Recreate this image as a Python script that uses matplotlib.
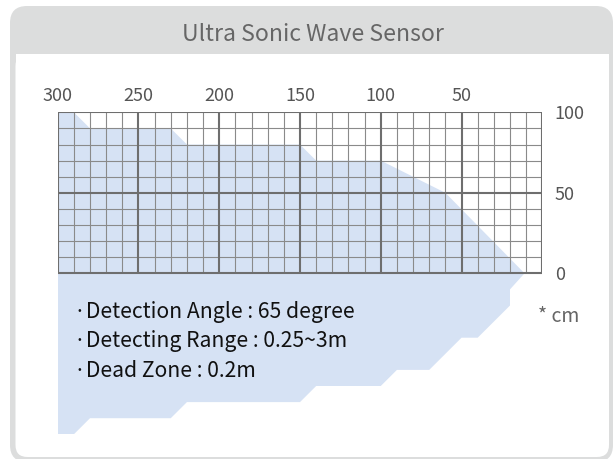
import matplotlib
matplotlib.use("Agg")
import matplotlib.pyplot as plt
from matplotlib.patches import FancyBboxPatch, Rectangle
import numpy as np

plt.rcParams['font.family'] = ['Noto Sans CJK KR', 'DejaVu Sans']

# ---- data ----
title = "Ultra Sonic Wave Sensor"
x_ticks = [300, 250, 200, 150, 100, 50]
y_ticks = [0, 50, 100]
unit_label = "* cm"
notes = ["·Detection Angle : 65 degree",
         "·Detecting Range : 0.25~3m",
         "·Dead Zone : 0.2m"]
# beam boundary (distance cm, lateral value), upper edge then lower edge
upper_cm = [300, 290, 280, 230, 220, 150, 140, 100, 60, 11]
upper_v = [100, 100, 90, 90, 80, 80, 70, 70, 50, 0]
lower_cm = [11, 20, 20, 40, 50, 70, 90, 100, 140, 150, 220, 230, 280, 290, 300]
lower_v = [0, -10, -20, -40, -40, -60, -60, -70, -70, -80, -80, -90, -90, -100, -100]
minor_step = 10
major_step = 50

W, H = 614, 459
fig = plt.figure(figsize=(W / 100, H / 100), dpi=100)

# background axes in pixel coords
bg = fig.add_axes([0, 0, 1, 1])
bg.set_xlim(0, W)
bg.set_ylim(H, 0)
bg.axis('off')
bg.add_patch(FancyBboxPatch((10, 6), 603, 456, boxstyle="round,pad=0,rounding_size=17",
                            fc='#dcdddd', ec='none'))
bg.add_patch(FancyBboxPatch((15.5, 54), 593.5, 403, boxstyle="round,pad=0,rounding_size=12",
                            fc='white', ec='none'))
bg.add_patch(Rectangle((15.5, 54), 593.5, 30, fc='white', ec='none'))
bg.text(312.5, 40.7, title, ha='center', va='baseline', fontsize=16.6, color='#666666')
bg.text(538, 321.7, unit_label, ha='left', va='baseline', fontsize=14, color='#666666')

# main axes: x 300..0, y -100..100
left, right = 57.7, 542.3
top, bottom = 112.3, 434.3
ax = fig.add_axes([left / W, (H - bottom) / H, (right - left) / W, (bottom - top) / H])
ax.patch.set_alpha(0)
ax.set_xlim(300, 0)
ax.set_ylim(-100, 100)
for s in ax.spines.values():
    s.set_visible(False)

xs = list(upper_cm) + list(lower_cm)
ys = list(upper_v) + list(lower_v)
ax.fill(xs, ys, color='#d6e2f4', lw=0, zorder=1)

xmin, xmax = 0, 300
ymin, ymax = 0, 100
for x in np.arange(xmin, xmax + 1, minor_step):
    major = (x % major_step == 0)
    ax.vlines(x, ymin, ymax, colors='#6e6e6e' if major else '#8a8a8a',
              lw=1.5 if major else 0.8, zorder=2 + major)
for y in np.arange(ymin, ymax + 1, minor_step):
    major = (y % major_step == 0)
    ax.hlines(y, xmin, xmax, colors='#6e6e6e' if major else '#8a8a8a',
              lw=1.5 if major else 0.8, zorder=2 + major)

ax.xaxis.tick_top()
ax.set_xticks(x_ticks)
ax.set_xticklabels([str(v) for v in x_ticks])
ax.yaxis.tick_right()
ax.set_yticks(y_ticks)
ax.set_yticklabels([str(v) for v in y_ticks])
ax.tick_params(axis='x', length=0, pad=5, labelsize=13, labelcolor='#555555')
ax.tick_params(axis='y', length=0, pad=9, labelsize=13, labelcolor='#555555')
for lab in ax.get_yticklabels():
    lab.set_verticalalignment('center_baseline')

# overlay axes for notes (above the beam fill)
ov = fig.add_axes([0, 0, 1, 1])
ov.set_xlim(0, W)
ov.set_ylim(H, 0)
ov.axis('off')
ov.patch.set_alpha(0)
for i, line in enumerate(notes):
    ov.text(74.5, 318.3 + i * 29.2, line, ha='left', va='baseline', fontsize=15.2, color='#111111')

fig.savefig("out.png", dpi=100)
